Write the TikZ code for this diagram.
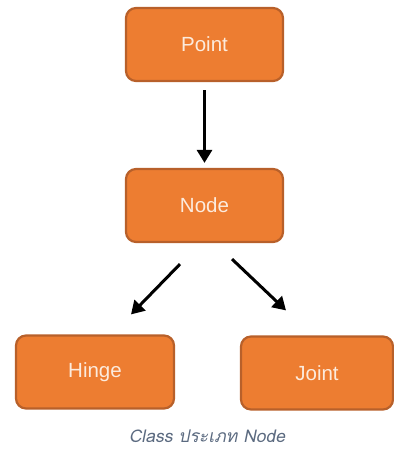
\documentclass[tikz,border=0pt]{standalone}
\usepackage{fontspec}
\setmainfont{Liberation Sans}
\newfontfamily\captionfont[Script=Thai,FakeSlant=0.2]{Loma}
\usetikzlibrary{arrows.meta,calc}
\definecolor{boxfill}{HTML}{ED7D31}
\definecolor{boxline}{HTML}{B8602A}
\definecolor{boxtext}{HTML}{FCEBDD}
\definecolor{captext}{HTML}{5B6A80}
\begin{document}
\begin{tikzpicture}[x=1pt,y=-1pt,
  classbox/.style={draw=boxline, fill=boxfill, line width=2.2pt, rounded corners=10pt,
    minimum height=73pt, text=boxtext, font=\fontsize{20.5}{24}\selectfont, inner sep=0pt},
  link/.style={line width=3pt, -{Triangle[length=13pt,width=15pt]}}]
\useasboundingbox (0,0) rectangle (393,449);
\node[classbox, minimum width=157pt] (point) at (204.5,44.5) {Point};
\node[classbox, minimum width=157pt] (node) at (204.5,205.5) {Node};
\node[classbox, minimum width=158pt] (hinge) at (95,372) {Hinge};
\node[classbox, minimum width=152pt] (joint) at (317,373) {Joint};
\coordinate (ls) at ($(node.south)+(-24.5,21)$);
\coordinate (le) at ($(hinge.north)+(36,-20)$);
\coordinate (rs) at ($(node.south)+(27.5,16)$);
\coordinate (re) at ($(joint.north)+(-31,-25)$);
\draw[link, shorten <=8pt, shorten >=5pt] (point.south) -- (node.north);
\draw[link] (ls) -- (le);
\draw[link] (rs) -- (re);
\node[text=captext, font=\captionfont\fontsize{17.5}{20}\selectfont] (caption) at (207,436) {Class ประเภท Node};
\end{tikzpicture}
\end{document}
